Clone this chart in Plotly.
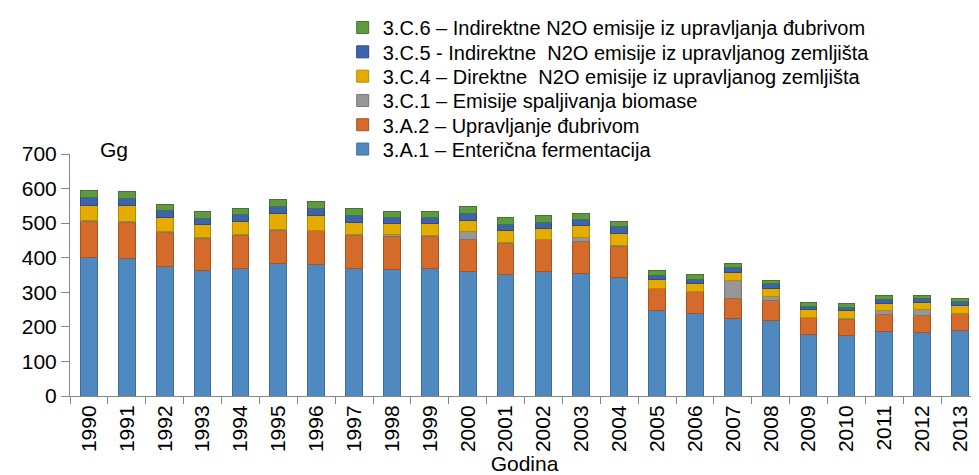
import plotly.graph_objects as go

years = [str(y) for y in range(1990, 2014)]

# Gg po kategorijama (procjena sa grafika)
enteric = [400, 398, 376, 362, 369, 382, 379, 369, 366, 368, 360, 352,
           360, 355, 344, 247, 239, 224, 219, 178, 174, 187, 183, 189]
manure = [105, 105, 97, 94, 95, 97, 99, 96, 96, 94, 93, 90,
          92, 92, 89, 63, 62, 57, 58, 48, 48, 48, 50, 49]
biomass = [2, 2, 3, 3, 2, 2, 2, 2, 5, 2, 22, 3,
           2, 11, 3, 1, 1, 54, 10, 2, 2, 12, 16, 2]
direct_soil = [45, 45, 40, 37, 38, 46, 42, 36, 31, 34, 34, 35,
               31, 34, 35, 25, 24, 23, 24, 21, 22, 22, 21, 21]
indirect_soil = [22, 22, 20, 18, 20, 20, 21, 20, 17, 17, 20, 17,
                 17, 18, 18, 13, 12, 13, 13, 11, 10, 11, 12, 11]
indirect_manure = [19, 20, 19, 19, 19, 20, 19, 20, 20, 20, 19, 19,
                   19, 19, 17, 14, 13, 13, 11, 11, 12, 11, 10, 11]

series = [
    ("3.A.1 – Enterična fermentacija", enteric, "#4f89bf", "#3d6f9e"),
    ("3.A.2 – Upravljanje đubrivom", manure, "#d56b2b", "#a85220"),
    ("3.C.1 – Emisije spaljivanja biomase", biomass, "#969696", "#767676"),
    ("3.C.4 – Direktne  N2O emisije iz upravljanog zemljišta", direct_soil, "#e5ac00", "#b88a00"),
    ("3.C.5 - Indirektne  N2O emisije iz upravljanog zemljišta", indirect_soil, "#3d63ad", "#2c4a85"),
    ("3.C.6 – Indirektne N2O emisije iz upravljanja đubrivom", indirect_manure, "#5e9a41", "#477531"),
]

# plot area is 244 px high; legend rows every ~24.5 px above it
plot_h = 244
fig = go.Figure()
legends = {}
for i, (name, vals, col, edge) in enumerate(series):
    key = "legend" if i == 0 else "legend%d" % (i + 1)
    fig.add_trace(go.Bar(
        x=years, y=vals, name=name, legend=key,
        marker=dict(color=col, line=dict(color=edge, width=1)),
    ))
    row_px = 139 - 24.5 * i   # row centre, px from figure top
    legends[key] = dict(
        x=0.3, y=(388 - row_px) / plot_h,
        xanchor="left", yanchor="middle",
        font=dict(size=20),
        itemwidth=30,
        bgcolor="rgba(0,0,0,0)",
    )

fig.update_layout(
    barmode="stack",
    bargap=0.56,
    width=971, height=467,
    paper_bgcolor="white", plot_bgcolor="white",
    font=dict(family="Arial, Liberation Sans, sans-serif", size=21, color="black"),
    margin=dict(l=62, r=0, t=144, b=79),
    showlegend=True,
    annotations=[dict(
        text="Gg", x=0.031, y=1.02, xref="paper", yref="paper",
        xanchor="left", yanchor="middle", showarrow=False,
        font=dict(size=21),
    )],
    **legends,
)

fig.update_xaxes(
    type="category",
    tickangle=-90,
    tickson="boundaries",
    ticks="outside", ticklen=7, tickcolor="#868686",
    showline=True, linecolor="#868686", linewidth=1,
    tickfont=dict(size=21),
    title=dict(text="Godina", font=dict(size=21), standoff=2),
    showgrid=False,
)
fig.update_yaxes(
    range=[0, 700], dtick=100,
    ticks="outside", ticklen=8, tickcolor="#868686",
    showline=True, linecolor="#868686", linewidth=1,
    tickfont=dict(size=21),
    showgrid=False, zeroline=False,
)

fig.write_html("out.html")
